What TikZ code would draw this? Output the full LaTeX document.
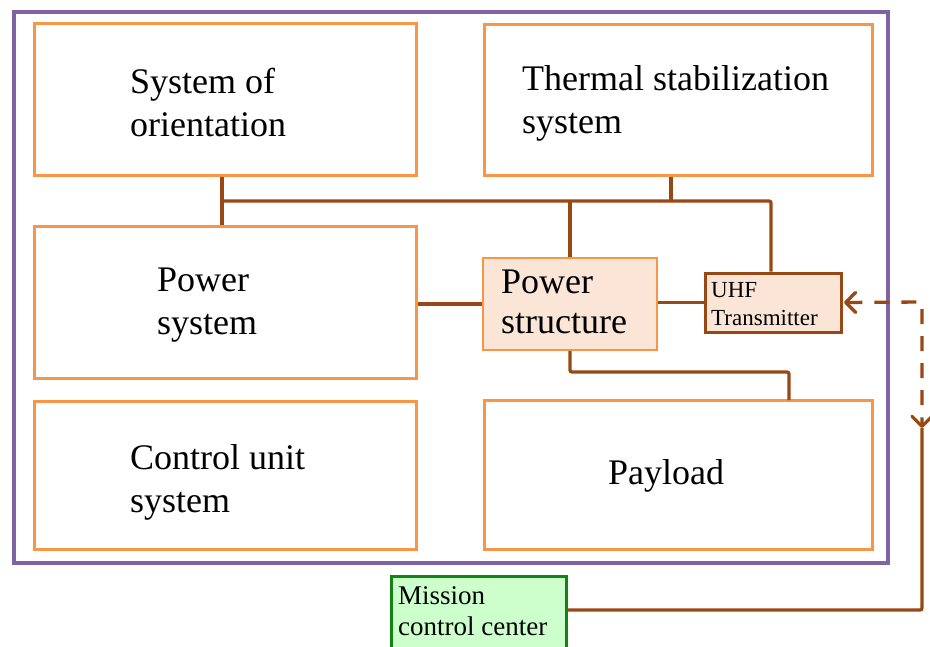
\documentclass[tikz,border=0pt]{standalone}
\usepackage{fontspec}
\setmainfont{Liberation Serif}
\usetikzlibrary{arrows.meta,calc}
\definecolor{boxor}{RGB}{247,150,70}
\definecolor{frame}{RGB}{128,100,162}
\definecolor{conn}{RGB}{152,72,20}
\definecolor{peach}{RGB}{251,229,214}
\definecolor{mgreen}{RGB}{20,130,20}
\definecolor{lgreen}{RGB}{204,255,204}
\tikzset{
  blk/.style={draw=boxor, line width=3pt, rectangle, inner sep=0pt},
  lbl/.style={anchor=base west, inner sep=0pt, align=left, font=\fontsize{36}{43}\selectfont},
  small/.style={anchor=base west, inner sep=0pt, align=left, font=\fontsize{23}{28}\selectfont},
  mid/.style={anchor=base west, inner sep=0pt, align=left, font=\fontsize{27}{31}\selectfont},
  wire/.style={draw=conn, line width=3.3pt, rounded corners=2pt},
  barb/.tip={Straight Barb[length=10pt,width=20pt,line cap=round,line join=round]}
}
\begin{document}
\begin{tikzpicture}[x=1pt,y=-1pt]
\useasboundingbox (0,0) rectangle (930,646);
% outer frame
\node[draw=frame, line width=4pt, minimum width=874pt, minimum height=551pt, inner sep=0pt] (frm) at (451,287.5) {};
% blocks
\node[blk, minimum width=382pt, minimum height=152pt] (so) at (225,99) {};
\node[blk, minimum width=388pt, minimum height=151pt] (th) at (678,99.5) {};
\node[blk, minimum width=382pt, minimum height=152pt] (psys) at (225,302) {};
\node[blk, minimum width=382pt, minimum height=148pt] (cu) at (225,475) {};
\node[blk, minimum width=388pt, minimum height=149pt] (pl) at (678,474.5) {};
\node[blk, fill=peach, line width=2pt, minimum width=174pt, minimum height=92pt] (pst) at (570,304) {};
\node[draw=conn, fill=peach, line width=3pt, inner sep=0pt, minimum width=136pt, minimum height=59pt] (uhf) at (773,302.5) {};
\node[draw=mgreen, fill=lgreen, line width=3pt, inner sep=0pt, minimum width=175pt, minimum height=80pt] (mcc) at (478.5,616) {};
% labels (anchored at the baseline of the last line)
\node[lbl] (tso) at (130,136) {System of\\orientation};
\node[lbl] (tth) at (522,133) {Thermal stabilization\\system};
\node[lbl] (tps) at (157,334) {Power\\system};
\node[lbl] (tcu) at (130,512) {Control unit\\system};
\node[lbl] (tpl) at (608,484) {Payload};
\node[lbl, font=\fontsize{36}{40}\selectfont] (tpst) at (501,333) {Power\\structure};
\node[small] (tuhf) at (711,325) {UHF\\Transmitter};
\node[mid] (tmcc) at (398,635) {Mission\\control center};
% connectors
\coordinate (busL) at (222,201);
\coordinate (pin) at (789,400);
\coordinate (dc) at (922,302);
\coordinate (dd) at (922,428);
\draw[wire] ([xshift=-3pt]so.south) -- ([xshift=-3pt]psys.north);
\draw[wire] (busL) -| ([xshift=-2pt]uhf.north);
\draw[wire] ([xshift=-7pt]th.south) -- ([xshift=-7pt]th.south |- busL);
\draw[wire] (pst.north) -- (pst.north |- busL);
\draw[wire] (psys.east |- pst.west) -- (pst.west);
\draw[wire] (pst.east |- uhf.west) -- (uhf.west);
\draw[wire] (pst.south) |- ($(pin)+(0,-28)$) -- (pin);
\draw[wire, dash pattern=on 15pt off 12pt, barb-barb] ([xshift=1.5pt]uhf.east) -- (dc) -- (dd);
\draw[wire] (dd) |- ([yshift=6pt]mcc.east);
\end{tikzpicture}
\end{document}
